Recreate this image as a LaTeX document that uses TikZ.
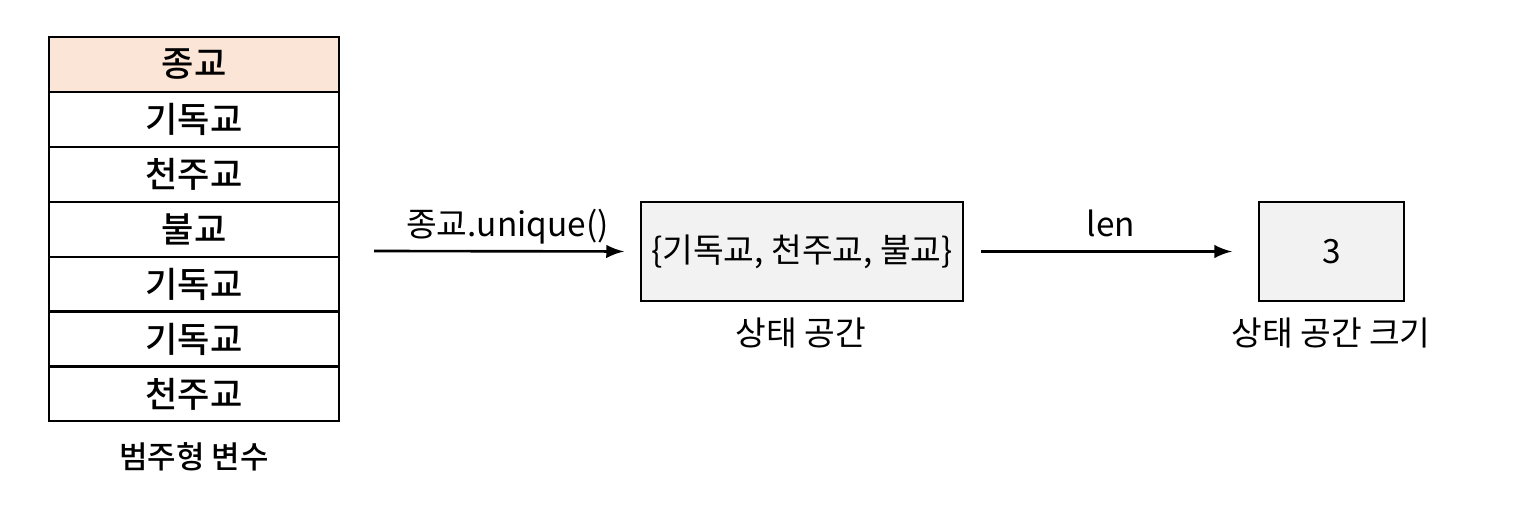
\documentclass[tikz,border=0pt]{standalone}
\usepackage{fontspec}
\usepackage{xcolor}
\usepackage{tikz}
\usetikzlibrary{arrows,positioning,calc}
\setmainfont{Noto Sans CJK KR}[BoldFont={Noto Sans CJK KR Medium}]
\definecolor{CATpeach}{RGB}{251,229,214}
\definecolor{CATgray}{RGB}{242,242,242}
\tikzstyle{cell}   = [rectangle, draw, line width=0.6pt, minimum width=29mm,
                      minimum height=5.49mm, inner sep=0pt, outer sep=0pt,
                      font=\bfseries]
\tikzstyle{Chead}  = [cell, fill=CATpeach]
\tikzstyle{sbox}   = [rectangle, draw, line width=0.6pt, fill=CATgray,
                      minimum height=9.9mm, inner sep=0pt, outer sep=0pt,
                      align=center]
\tikzstyle{tagtext} = [inner sep=0pt]
\tikzstyle{flow}   = [->, line width=0.75pt]

\begin{document}
\begin{tikzpicture}[x=0.1mm, y=-0.1mm, >=latex,
                    font=\fontsize{9.5pt}{11pt}\selectfont]
  \useasboundingbox (0,0) rectangle (1513,519);
  \node[Chead] (rel)  at (194,64.5) {종교};
  \node[cell,  below=0pt of rel] (r1) {기독교};
  \node[cell,  below=0pt of r1]  (r2) {천주교};
  \node[cell,  below=0pt of r2]  (r3) {불교};
  \node[cell,  below=0pt of r3]  (r4) {기독교};
  \node[cell,  below=0pt of r4]  (r5) {기독교};
  \node[cell,  below=0pt of r5]  (r6) {천주교};
  \node[tagtext, font=\fontsize{8.8pt}{10pt}\selectfont\bfseries] (var) at (194,457) {범주형 변수};

  \coordinate (src) at (374,251);
  \node[sbox, minimum width=32.2mm] (space) at (802,251.5) {\{기독교, 천주교, 불교\}};
  \node[tagtext] (spacecap) at (801,333) {상태 공간};
  \node[sbox, minimum width=14.5mm] (size) at (1331.5,251.5) {3};
  \node[tagtext] (sizecap) at (1331,333) {상태 공간 크기};

  \draw[flow, shorten >=1.7mm] (src) -- node[tagtext, above=0.6mm]{종교.unique()} (space.west);
  \draw[flow, shorten <=1.8mm, shorten >=2.7mm] (space.east) -- node[tagtext, above=1.3mm]{len} (size.west);
\end{tikzpicture}
\end{document}
